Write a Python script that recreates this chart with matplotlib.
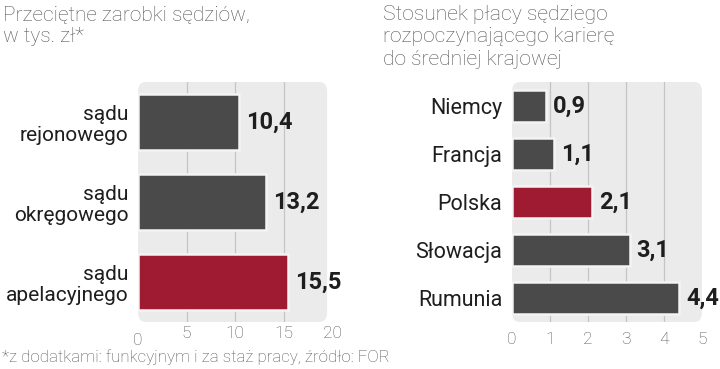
import matplotlib.pyplot as plt
from matplotlib.patches import FancyBboxPatch

# left chart: average judge earnings, thousands PLN
courts = ["sądu\nrejonowego", "sądu\nokręgowego", "sądu\napelacyjnego"]
earnings = [10.4, 13.2, 15.5]
earn_labels = ["10,4", "13,2", "15,5"]
earn_ticks = [0, 5, 10, 15, 20]

# right chart: starting judge pay vs national average
countries = ["Niemcy", "Francja", "Polska", "Słowacja", "Rumunia"]
ratios = [0.9, 1.1, 2.1, 3.1, 4.4]
ratio_labels = ["0,9", "1,1", "2,1", "3,1", "4,4"]
ratio_ticks = [0, 1, 2, 3, 4, 5]

DARK = "#4a4a4a"
RED = "#9e1b32"
BG = "#ebebeb"
GRID = "#c4c4c4"
TXT = "#1e1e1e"
LIGHT = "#555555"
SANS = ["Roboto", "DejaVu Sans"]

fig = plt.figure(figsize=(7.2, 3.69), dpi=100)


def draw_panel(ax, cats, vals, labels, ticks, highlight, bar_h, bg_w, cat_size):
    n = len(cats)
    ax.set_xlim(ticks[0], ticks[-1])
    ax.set_ylim(n - 0.5, -0.5)
    ax.patch.set_visible(False)
    for s in ax.spines.values():
        s.set_visible(False)
    bg = FancyBboxPatch((0, 0), bg_w, 1, boxstyle="round,pad=0,rounding_size=0.04",
                        transform=ax.transAxes, facecolor=BG, edgecolor="none", zorder=0)
    ax.add_patch(bg)
    for t in ticks[1:-1]:
        ax.axvline(t, color=GRID, lw=0.9, zorder=1)
    colors = [RED if i == highlight else DARK for i in range(n)]
    bars = ax.barh(range(n), vals, height=bar_h, color=colors, edgecolor="#f4f4f4",
                   linewidth=1.8, joinstyle="round", zorder=2)
    for b, lab in zip(bars, labels):
        ax.annotate(lab, (b.get_width(), b.get_y() + b.get_height() / 2),
                    xytext=(5, 0), textcoords="offset points", ha="left", va="center",
                    fontsize=17, fontweight="bold", family=SANS, color=TXT)
    ax.set_yticks(range(n))
    ax.set_yticklabels(cats, fontsize=cat_size, family=SANS, color=TXT, linespacing=1.12)
    ax.set_xticks(ticks)
    ax.set_xticklabels([str(t) for t in ticks], fontsize=12.5, family=SANS,
                       fontweight="light", color=LIGHT)
    ax.tick_params(length=0, axis="y", pad=7)
    ax.tick_params(length=0, axis="x", pad=3)


ax1 = fig.add_axes([138 / 720, 47 / 369, 194 / 720, 240 / 369])
draw_panel(ax1, courts, earnings, earn_labels, earn_ticks, 2, 0.69, 0.975, 15)
# the zero tick sits a bit lower in the original
ax1.get_xticklabels()[0].set_y(-0.03)

ax2 = fig.add_axes([512 / 720, 47 / 369, 190 / 720, 240 / 369])
draw_panel(ax2, countries, ratios, ratio_labels, ratio_ticks, 2, 0.65, 1.0, 15.5)
ax2.tick_params(axis="x", pad=7)

fig.text(3 / 720, 1 - 5 / 369, "Przeciętne zarobki sędziów,\nw tys. zł*", ha="left", va="top",
         fontsize=15, family=SANS, fontweight="light", color=LIGHT, linespacing=1.22)
fig.text(383 / 720, 1 - 5 / 369, "Stosunek płacy sędziego\nrozpoczynającego karierę\ndo średniej krajowej",
         ha="left", va="top", fontsize=15.2, family=SANS, fontweight="light", color=LIGHT,
         linespacing=1.22)
fig.text(2 / 720, 1 - 357 / 369, "*z dodatkami: funkcyjnym i za staż pracy, źródło: FOR",
         ha="left", va="center", fontsize=12.2, family=SANS, fontweight="light", color=LIGHT)

fig.savefig("out.png", dpi=100)
